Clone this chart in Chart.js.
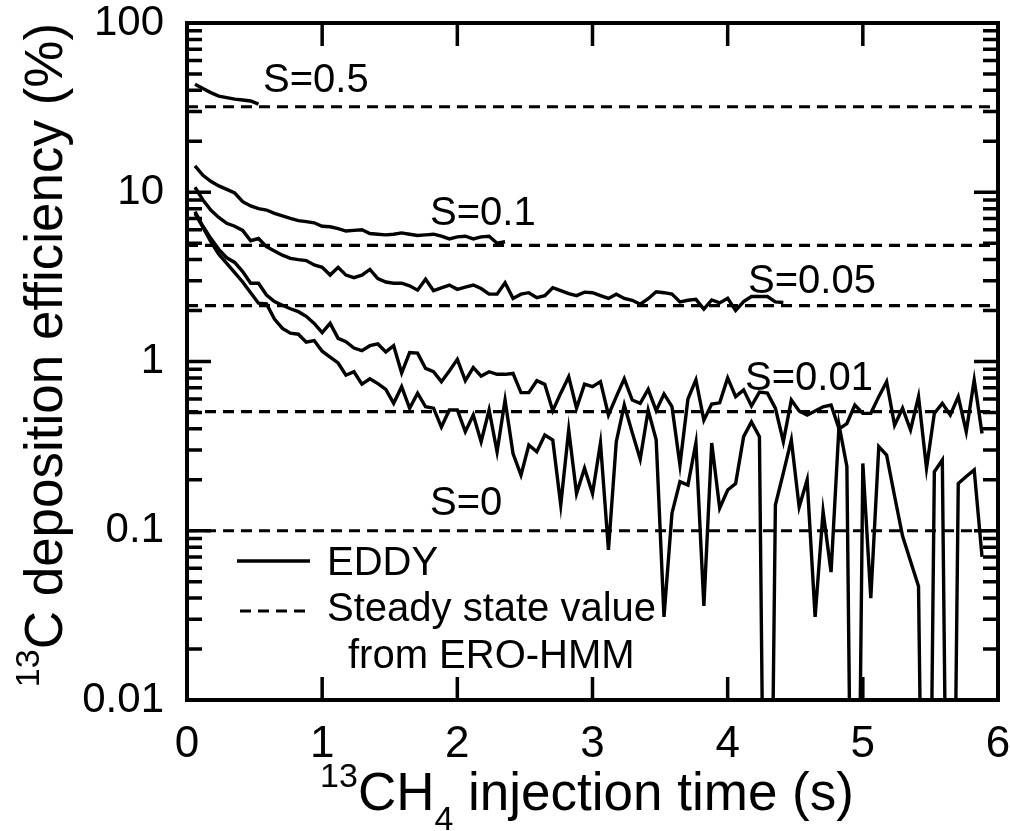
<!DOCTYPE html>
<html>
<head>
<meta charset="utf-8">
<script src="https://cdn.jsdelivr.net/npm/chart.js@4.4.1/dist/chart.umd.min.js"></script>
<style>
  html, body { margin: 0; padding: 0; background: #fff; }
  #wrap { width: 1010px; height: 831px; }
</style>
</head>
<body>
<div id="wrap"><canvas id="myChart" width="1010" height="831"></canvas></div>
<script>
// sample times (s), one EDDY step every 1/17 s
var time = [0.059, 0.118, 0.176, 0.235, 0.294, 0.353, 0.412, 0.471, 0.529, 0.588,
            0.647, 0.706, 0.765, 0.824, 0.882, 0.941, 1.000, 1.059, 1.118, 1.176,
            1.235, 1.294, 1.353, 1.412, 1.471, 1.529, 1.588, 1.647, 1.706, 1.765,
            1.824, 1.882, 1.941, 2.000, 2.059, 2.118, 2.176, 2.235, 2.294, 2.353,
            2.412, 2.471, 2.529, 2.588, 2.647, 2.706, 2.765, 2.824, 2.882, 2.941,
            3.000, 3.059, 3.118, 3.176, 3.235, 3.294, 3.353, 3.412, 3.471, 3.529,
            3.588, 3.647, 3.706, 3.765, 3.824, 3.882, 3.941, 4.000, 4.059, 4.118,
            4.176, 4.235, 4.294, 4.353, 4.412, 4.471, 4.529, 4.588, 4.647, 4.706,
            4.765, 4.824, 4.882, 4.941, 5.000, 5.059, 5.118, 5.176, 5.235, 5.294,
            5.353, 5.412, 5.471, 5.529, 5.588, 5.647, 5.706, 5.765, 5.824, 5.882];

// EDDY deposition efficiency (%) per sticking coefficient S
var eddyS05 = [43.5, 41, 38.8, 37, 36.2, 35.5, 35.1, 34.6, 33.2];
var eddyS01 = [14.3, 12.6, 11.6, 10.9, 10.4, 9.9, 8.8, 8.3, 8.0, 7.85,
               7.5, 7.25, 7.0, 6.8, 6.7, 6.6, 6.3, 6.25, 6.1, 5.9,
               5.95, 6.0, 5.7, 5.65, 5.6, 5.65, 5.75, 5.65, 5.55, 5.6,
               5.65, 5.5, 5.3, 5.45, 5.5, 5.3, 5.45, 5.5, 5.0, 5.1];
var eddyS005 = [10.7, 9.0, 7.85, 7.1, 6.55, 6.3, 5.95, 5.17, 5.33, 4.77,
                4.5, 4.25, 4.07, 4.0, 3.95, 3.72, 3.6, 3.24, 3.6, 3.24,
                3.13, 3.24, 3.5, 3.09, 2.95, 2.9, 2.9, 2.8, 2.64, 3.06,
                2.62, 2.72, 2.83, 2.67, 2.75, 2.83, 2.7, 2.5, 2.5, 2.92,
                2.36, 2.5, 2.55, 2.38, 2.45, 2.73, 2.62, 2.52, 2.45, 2.57,
                2.55, 2.45, 2.36, 2.5, 2.36, 2.3, 2.18, 2.35, 2.58, 2.55,
                2.5, 2.25, 2.3, 2.33, 2.04, 2.31, 2.22, 2.36, 2.0, 2.26,
                2.42, 2.42, 2.42, 2.25, 2.23];
var eddyS001 = [7.68, 6.3, 5.34, 4.6, 4.1, 3.85, 3.4, 2.9, 2.9, 2.47,
                2.26, 2.15, 2.05, 1.97, 1.85, 1.68, 1.48, 1.68, 1.37, 1.31,
                1.2, 1.16, 1.24, 1.27, 1.14, 1.24, 0.855, 1.13, 1.12, 0.91,
                0.87, 0.76, 0.88, 1.03, 0.77, 0.92, 0.82, 0.87, 0.84, 0.84,
                0.85, 0.655, 0.655, 0.77, 0.733, 0.512, 0.65, 0.813, 0.53, 0.735,
                0.71, 0.76, 0.483, 0.62, 0.79, 0.592, 0.566, 0.685, 0.512, 0.643,
                0.541, 0.245, 0.6, 0.78, 0.45, 0.56, 0.57, 0.8, 0.62, 0.68,
                0.546, 0.66, 0.65, 0.53, 0.336, 0.592, 0.51, 0.483, 0.51, 0.54,
                0.553, 0.4, 0.43, 0.553, 0.494, 0.494, 0.62, 0.76, 0.42, 0.53,
                0.394, 0.62, 0.234, 0.494, 0.566, 0.483, 0.62, 0.385, 0.778, 0.376];
// 0.00001 = dropped to ~zero (off the bottom of the log axis)
var eddyS0 = [7.5, 6.2, 5.1, 4.3, 3.8, 3.35, 2.95, 2.55, 2.21, 2.19,
              1.78, 1.57, 1.47, 1.45, 1.3, 1.33, 1.15, 1.06, 0.98, 0.83,
              0.87, 0.735, 0.79, 0.74, 0.685, 0.566, 0.71, 0.529, 0.65, 0.54,
              0.53, 0.41, 0.517, 0.517, 0.385, 0.483, 0.336, 0.517, 0.293, 0.592,
              0.286, 0.213, 0.321, 0.293, 0.368, 0.344, 0.142, 0.394, 0.166, 0.234,
              0.166, 0.33, 0.077, 0.336, 0.553, 0.38, 0.265, 0.515, 0.345, 0.031,
              0.127, 0.195, 0.186, 0.33, 0.036, 0.33, 0.136, 0.174, 0.19, 0.36,
              0.44, 0.36, 0.00001, 0.142, 0.22, 0.344, 0.138, 0.2, 0.031, 0.13,
              0.057, 0.42, 0.24, 0.00001, 0.25, 0.04, 0.314, 0.28, 0.16, 0.093,
              0.066, 0.047, 0.00001, 0.223, 0.262, 0.00001, 0.19, 0.209, 0.229, 0.07];

// steady state values from ERO-HMM, same order as the labels
var seriesLabels = ['S=0.5', 'S=0.1', 'S=0.05', 'S=0.01', 'S=0'];
var steadyValues = [32, 4.85, 2.14, 0.505, 0.1];

var xTicks = [0, 1, 2, 3, 4, 5, 6];
var xTickLabels = ['0', '1', '2', '3', '4', '5', '6'];
var yDecades = [0.01, 0.1, 1, 10, 100];
var yTickLabels = ['0.01', '0.1', '1', '10', '100'];

var FONT = "'Liberation Sans', Arial, Helvetica, sans-serif";

function toPoints(vals) {
    return vals.map(function (v, i) { return { x: time[i], y: v }; });
}

var eddySeries = [eddyS05, eddyS01, eddyS005, eddyS001, eddyS0];
var datasets = [];
eddySeries.forEach(function (vals, i) {
    datasets.push({
        label: 'EDDY ' + seriesLabels[i],
        data: toPoints(vals),
        borderColor: '#000',
        borderWidth: 3.4,
        pointRadius: 0,
        tension: 0
    });
});
steadyValues.forEach(function (v, i) {
    datasets.push({
        label: 'Steady ' + seriesLabels[i],
        data: [{ x: 0, y: v }, { x: 6, y: v }],
        borderColor: '#000',
        borderWidth: 3.2,
        borderDash: [11, 7],
        pointRadius: 0
    });
});

// log minor tick positions 1..9 per decade
var yTickValues = [];
yDecades.slice(0, 4).forEach(function (d) {
    for (var m = 1; m <= 9; m++) yTickValues.push(d * m);
});
yTickValues.push(100);

function isDecade(v) {
    return yDecades.findIndex(function (d) { return Math.abs(d - v) < d * 1e-6; });
}

// draws text pieces with different sizes / baseline shifts (for super/subscripts)
function drawRich(ctx, parts, x0, y0) {
    var total = 0;
    parts.forEach(function (p) {
        ctx.font = p.size + 'px ' + FONT;
        p.w = ctx.measureText(p.text).width;
        total += p.w;
    });
    var x = x0 - total / 2;
    parts.forEach(function (p) {
        ctx.font = p.size + 'px ' + FONT;
        ctx.fillText(p.text, x, y0 + p.dy);
        x += p.w;
    });
}

var framePlugin = {
    id: 'frameAndText',
    afterDatasetsDraw: function (chart) {
        var ctx = chart.ctx, a = chart.chartArea;
        var xs = chart.scales.x, ys = chart.scales.y;
        ctx.save();
        ctx.strokeStyle = '#000';
        ctx.fillStyle = '#000';
        ctx.lineWidth = 4;
        ctx.strokeRect(a.left, a.top, a.right - a.left, a.bottom - a.top);

        // inward ticks on all four sides
        ctx.lineWidth = 3.5;
        ctx.beginPath();
        xTicks.forEach(function (v) {
            var p = xs.getPixelForValue(v);
            ctx.moveTo(p, a.bottom); ctx.lineTo(p, a.bottom - 23);
            ctx.moveTo(p, a.top); ctx.lineTo(p, a.top + 23);
        });
        ys.ticks.forEach(function (t) {
            var p = ys.getPixelForValue(t.value);
            var len = isDecade(t.value) >= 0 ? 24 : 15;
            ctx.moveTo(a.left, p); ctx.lineTo(a.left + len, p);
            ctx.moveTo(a.right, p); ctx.lineTo(a.right - len, p);
        });
        ctx.stroke();

        // curve labels
        ctx.font = '40px ' + FONT;
        ctx.textAlign = 'left';
        ctx.textBaseline = 'alphabetic';
        var labelPos = [[263, 92], [430, 225], [748, 293], [745, 390], [430, 515]];
        seriesLabels.forEach(function (s, i) {
            ctx.fillText(s, labelPos[i][0], labelPos[i][1]);
        });

        // legend
        ctx.lineWidth = 3.4;
        ctx.beginPath();
        ctx.moveTo(237, 561); ctx.lineTo(310, 561);
        ctx.stroke();
        ctx.lineWidth = 3.2;
        ctx.setLineDash([11, 7]);
        ctx.beginPath();
        ctx.moveTo(240, 611); ctx.lineTo(307, 611);
        ctx.stroke();
        ctx.setLineDash([]);
        ctx.fillText('EDDY', 327, 575);
        ctx.fillText('Steady state value', 327, 621);
        ctx.fillText('from ERO-HMM', 348, 668);

        // axis titles
        drawRich(ctx, [
            { text: '13', size: 34, dy: -23 },
            { text: 'CH', size: 53, dy: 0 },
            { text: '4', size: 34, dy: 20 },
            { text: ' injection time (s)', size: 53, dy: 0 }
        ], 587, 810);

        ctx.save();
        ctx.translate(62, 355);
        ctx.rotate(-Math.PI / 2);
        drawRich(ctx, [
            { text: '13', size: 34, dy: -23 },
            { text: 'C', size: 53, dy: 0 },
            { text: ' deposition efficiency (%)', size: 53, dy: 0 }
        ], 0, 0);
        ctx.restore();

        ctx.restore();
    }
};

var ctx = document.getElementById('myChart').getContext('2d');
var myChart = new Chart(ctx, {
    type: 'line',
    data: { datasets: datasets },
    options: {
        responsive: false,
        animation: false,
        devicePixelRatio: 1,
        layout: { padding: { top: 23, right: 12, left: 0, bottom: 0 } },
        plugins: { legend: { display: false }, tooltip: { enabled: false } },
        scales: {
            x: {
                type: 'linear',
                min: 0,
                max: 6,
                grid: { display: false },
                border: { display: false },
                afterBuildTicks: function (s) {
                    s.ticks = xTicks.map(function (v) { return { value: v }; });
                },
                ticks: {
                    padding: 10,
                    color: '#000',
                    autoSkip: false,
                    maxRotation: 0,
                    font: { family: FONT, size: 44, lineHeight: 1.2 },
                    callback: function (v) {
                        var i = xTicks.indexOf(v);
                        return i >= 0 ? xTickLabels[i] : '';
                    }
                },
                afterFit: function (s) {
                    s.height = 131;
                    s.paddingLeft = 0;
                    s.paddingRight = 0;
                }
            },
            y: {
                type: 'logarithmic',
                min: 0.01,
                max: 100,
                grid: { display: false },
                border: { display: false },
                afterBuildTicks: function (s) {
                    s.ticks = yTickValues.map(function (v) { return { value: v }; });
                },
                ticks: {
                    padding: 15,
                    color: '#000',
                    autoSkip: false,
                    font: { family: FONT, size: 42, lineHeight: 1 },
                    callback: function (v) {
                        var i = isDecade(v);
                        return i >= 0 ? yTickLabels[i] : '';
                    }
                },
                afterFit: function (s) {
                    s.width = 187;
                    s.paddingTop = 0;
                    s.paddingBottom = 0;
                }
            }
        }
    },
    plugins: [framePlugin]
});
</script>
</body>
</html>
